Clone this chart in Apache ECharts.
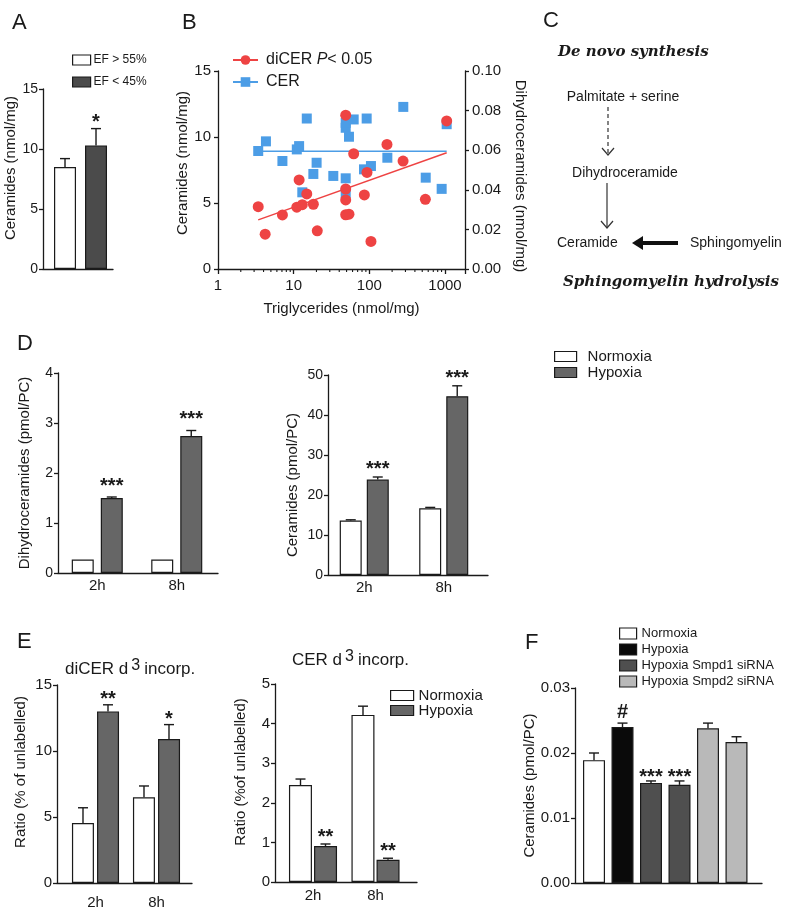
<!DOCTYPE html>
<html>
<head>
<meta charset="utf-8">
<script src="https://cdn.jsdelivr.net/npm/echarts@6.0.0/dist/echarts.min.js"></script>
<style>
html,body{margin:0;padding:0;background:#ffffff;}
#chart{width:800px;height:910px;}
</style>
</head>
<body>
<div id="chart"></div>
<script>
// ===================== DATA =====================
// Panel A
const aNames = ['EF > 55%', 'EF < 45%'];
const aMean = [8.5, 10.3];
const aUpper = [9.2, 11.7];
const aSig = ['', '*'];

// Panel B (triglycerides x, diCER right axis, CER left axis)
const bTgDicer = [3.4, 4.2, 7.1, 11.0, 11.8, 13.0, 14.9, 18.2, 20.5, 48.7, 48.7, 48.7, 48.7, 53.8, 62.1, 85.9, 93.1, 105, 171, 279, 550, 1052];
const bDicer = [0.0315, 0.0176, 0.0273, 0.0312, 0.0450, 0.0325, 0.0379, 0.0327, 0.0193, 0.0777, 0.0404, 0.0349, 0.0274, 0.0277, 0.0582, 0.0374, 0.0488, 0.0139, 0.0629, 0.0545, 0.0352, 0.0748];
const bTgCer = [3.4, 4.3, 7.1, 11.0, 11.8, 13.0, 14.9, 18.2, 20.1, 33.4, 48.7, 48.7, 48.7, 48.7, 53.8, 62.1, 85.0, 105, 92.2, 173, 281, 556, 903, 1052];
const bCer = [8.94, 9.67, 8.18, 9.06, 9.31, 5.81, 11.40, 7.20, 8.05, 7.05, 6.87, 5.74, 10.70, 11.07, 10.02, 11.33, 7.55, 7.80, 11.40, 8.43, 12.28, 6.92, 6.07, 10.97];
const bFitTg = [3.4, 1052];
const bFitDicer = [0.0248, 0.0587];
const bFitCer = [8.92, 8.92];
const bMinorTicks = [2,3,4,5,6,7,8,9,20,30,40,50,60,70,80,90,200,300,400,500,600,700,800,900];

// Panel D
const times = ['2h', '8h'];
const dDiNorm = [0.27, 0.27];
const dDiNormUp = [0.28, 0.28];
const dDiHyp = [1.50, 2.74];
const dDiHypUp = [1.52, 2.85];
const dDiSig = ['***', '***'];
const dCerNorm = [13.6, 16.7];
const dCerNormUp = [13.8, 16.9];
const dCerHyp = [23.85, 44.7];
const dCerHypUp = [24.5, 47.3];
const dCerSig = ['***', '***'];

// Panel E
const eDiNorm = [4.55, 6.5];
const eDiNormUp = [5.7, 7.35];
const eDiHyp = [13.0, 10.9];
const eDiHypUp = [13.5, 12.0];
const eDiSig = ['**', '*'];
const eCerNorm = [2.45, 4.22];
const eCerNormUp = [2.6, 4.44];
const eCerHyp = [0.91, 0.56];
const eCerHypUp = [0.96, 0.60];
const eCerSig = ['**', '**'];

// Panel F
const fGroups = ['Normoxia', 'Hypoxia', 'Hypoxia Smpd1 siRNA', 'Hypoxia Smpd2 siRNA'];
const fGroupOfBar = [0, 1, 2, 2, 3, 3];
const fMean = [0.0189, 0.0240, 0.0154, 0.0151, 0.0238, 0.0217];
const fUpper = [0.0200, 0.0246, 0.0157, 0.0157, 0.0246, 0.0225];
const fSig = ['', '#', '***', '***', '', ''];

// ===================== STYLE / LAYOUT =====================
const FONT = '"Liberation Sans", Arial, Helvetica, sans-serif';
const INK = '#1a1a1a';
const WHITE = '#ffffff';
const GRAY = '#666666';
const DARK_A = '#4b4b4b';
const F_COLORS = ['#ffffff', '#0a0a0a', '#4f4f4f', '#b9b9b9'];
const RED = '#ee4343';
const BLUE = '#4c9de6';

const axLine = {show: true, onZero: false, lineStyle: {color: INK, width: 1.3}};
const axTick = {show: true, length: 4, lineStyle: {color: INK, width: 1.3}};

function yAx(gridIndex, min, max, interval, name, o) {
  o = o || {};
  return {
    type: 'value', gridIndex, min, max, interval,
    position: o.position || 'left',
    name, nameLocation: 'middle', nameGap: o.nameGap, nameRotate: o.nameRotate,
    nameTextStyle: {fontFamily: FONT, fontSize: o.nameSize || 15, color: INK, padding: o.namePad || 0},
    axisLine: axLine, axisTick: axTick,
    axisLabel: {fontFamily: FONT, fontSize: o.labelSize || 14, color: INK, margin: o.labelMargin || 6, formatter: o.fmt},
    splitLine: {show: false}
  };
}
function xBar(gridIndex, min, max, labels, margin) {
  return {
    type: 'value', gridIndex, min, max,
    axisLine: axLine, axisTick: {show: false}, splitLine: {show: false},
    axisLabel: labels ? {
      show: true, customValues: labels.map((_, i) => i + 1),
      formatter: v => (Math.abs(v - Math.round(v)) < 1e-9 && labels[Math.round(v) - 1]) || '',
      fontFamily: FONT, fontSize: 15, color: INK, margin: margin
    } : {show: false}
  };
}
function barS(name, xi, yi, vals, color, width, gap, xs) {
  return {
    type: 'bar', name, xAxisIndex: xi, yAxisIndex: yi, barWidth: width, barGap: gap,
    itemStyle: {color, borderColor: INK, borderWidth: 1.2},
    data: vals.map((v, i) => [xs ? xs[i] : i + 1, v]), z: 2
  };
}
function errS(xi, yi, means, uppers, sigs, offset, st, xs) {
  return {
    type: 'custom', xAxisIndex: xi, yAxisIndex: yi, z: 5, silent: true,
    data: means.map((m, i) => [xs ? xs[i] : i + 1, m, uppers[i]]),
    encode: {x: 0, y: 1},
    renderItem(params, api) {
      const x = api.value(0), m = api.value(1), u = api.value(2);
      const pm = api.coord([x, m]), pu = api.coord([x, u]);
      const cx = pm[0] + offset;
      const ch = [];
      const ls = {stroke: INK, lineWidth: 1.4};
      if (pm[1] - pu[1] > 0.8) {
        ch.push({type: 'line', shape: {x1: cx, y1: pm[1], x2: cx, y2: pu[1]}, style: ls});
        ch.push({type: 'line', shape: {x1: cx - st.cap, y1: pu[1], x2: cx + st.cap, y2: pu[1]}, style: ls});
      }
      const s = sigs && sigs[params.dataIndex];
      if (s) {
        const star = s.indexOf('*') >= 0;
        ch.push({type: 'text', x: cx, y: pu[1] - (star ? st.d : st.dh) + (star ? 0.22 * st.fs : 0),
          style: {text: s, font: 'bold ' + st.fs + 'px ' + FONT, fill: INK, align: 'center', verticalAlign: 'middle'}});
      }
      return {type: 'group', children: ch};
    }
  };
}

// B minor tick renderer
const minorTickSeries = {
  type: 'custom', xAxisIndex: 1, yAxisIndex: 1, silent: true, z: 5,
  data: bMinorTicks.map(v => [v, 0]), encode: {x: 0, y: 1},
  renderItem(params, api) {
    const p = api.coord([api.value(0), api.value(1)]);
    return {type: 'line', shape: {x1: p[0], y1: p[1], x2: p[0], y2: p[1] + 3}, style: {stroke: INK, lineWidth: 1.1}};
  }
};

// ===================== OPTION =====================
const grids = [
  {left: 43, top: 89, width: 70, height: 180},    // 0 A
  {left: 218, top: 71, width: 247, height: 198},  // 1 B
  {left: 58, top: 373, width: 160, height: 200},  // 2 D left
  {left: 328, top: 375, width: 160, height: 200}, // 3 D right
  {left: 57, top: 685, width: 135, height: 198},  // 4 E left
  {left: 275, top: 684, width: 142, height: 198}, // 5 E right
  {left: 575, top: 688, width: 187, height: 195}  // 6 F
].map(g => Object.assign({outerBoundsMode: 'none', containLabel: false}, g));

const xAxes = [
  xBar(0, 0.29, 2.548, null),
  {
    type: 'log', gridIndex: 1, min: 1, max: 1837, logBase: 10,
    axisLine: axLine, axisTick: {show: true, length: 5, lineStyle: {color: INK, width: 1.3}},
    splitLine: {show: false},
    axisLabel: {fontFamily: FONT, fontSize: 15, color: INK, margin: 9,
      formatter: v => { const l = Math.log10(v); return Math.abs(l - Math.round(l)) < 1e-6 ? String(Math.round(v)) : ''; }},
    name: 'Triglycerides (nmol/mg)', nameLocation: 'middle', nameGap: 32,
    nameTextStyle: {fontFamily: FONT, fontSize: 15, color: INK}
  },
  xBar(2, 0.506, 2.519, times, 5),
  xBar(3, 0.544, 2.557, times, 5),
  xBar(4, 0.369, 2.582, times, 12),
  xBar(5, 0.392, 2.664, times, 6),
  xBar(6, 0.333, 6.895, null)
];

const yAxes = [
  yAx(0, 0, 15, 5, 'Ceramides (nmol/mg)', {nameGap: 16, namePad: [0, 0, 0, 22], labelSize: 14, labelMargin: 5}),
  yAx(1, 0, 15, 5, 'Ceramides (nmol/mg)', {nameGap: 23, namePad: [0, 0, 0, 14], labelSize: 15, labelMargin: 7}),
  yAx(1, 0, 0.1, 0.02, 'Dihydroceramides (nmol/mg)', {position: 'right', nameRotate: -90, nameGap: 48, namePad: [0, 0, 0, 12], labelSize: 15, labelMargin: 7, fmt: v => v.toFixed(2)}),
  yAx(2, 0, 4, 1, 'Dihydroceramides (pmol/PC)', {nameGap: 26, labelSize: 14, labelMargin: 5}),
  yAx(3, 0, 50, 10, 'Ceramides (pmol/PC)', {nameGap: 28, namePad: [0, 20, 0, 0], labelSize: 14, labelMargin: 5}),
  yAx(4, 0, 15, 5, 'Ratio (% of unlabelled)', {nameGap: 29, namePad: [0, 0, 0, 24], labelSize: 15, labelMargin: 5}),
  yAx(5, 0, 5, 1, 'Ratio (%of unlabelled)', {nameGap: 27, namePad: [0, 0, 0, 22], labelSize: 15, labelMargin: 5}),
  yAx(6, 0, 0.03, 0.01, 'Ceramides (pmol/PC)', {nameGap: 37, labelSize: 15, labelMargin: 5, fmt: v => v.toFixed(2)})
];

const series = [];
// A
series.push(barS(aNames[0], 0, 0, [aMean[0]], WHITE, 22, '-100%', [1]));
series.push(barS(aNames[1], 0, 0, [aMean[1]], DARK_A, 22, '-100%', [2]));
series.push(errS(0, 0, aMean, aUpper, aSig, 0, {cap: 5, d: 11, dh: 11, fs: 20}));
// B
series.push({type: 'line', name: 'diCER P< 0.05', xAxisIndex: 1, yAxisIndex: 2, symbol: 'circle', showSymbol: false,
  lineStyle: {color: RED, width: 1.5}, itemStyle: {color: RED}, data: bFitTg.map((x, i) => [x, bFitDicer[i]]), z: 3});
series.push({type: 'line', name: 'CER', xAxisIndex: 1, yAxisIndex: 1, symbol: 'rect', showSymbol: false,
  lineStyle: {color: BLUE, width: 1.5}, itemStyle: {color: BLUE}, data: bFitTg.map((x, i) => [x, bFitCer[i]]), z: 3});
series.push({type: 'scatter', name: 'CER', xAxisIndex: 1, yAxisIndex: 1, symbol: 'rect', symbolSize: 10,
  itemStyle: {color: BLUE, opacity: 1}, data: bTgCer.map((x, i) => [x, bCer[i]]), z: 4});
series.push({type: 'scatter', name: 'diCER P< 0.05', xAxisIndex: 1, yAxisIndex: 2, symbol: 'circle', symbolSize: 11,
  itemStyle: {color: RED, opacity: 1}, data: bTgDicer.map((x, i) => [x, bDicer[i]]), z: 4});
series.push(minorTickSeries);
// D left
series.push(barS('Normoxia', 2, 3, dDiNorm, WHITE, 22, '32%'));
series.push(barS('Hypoxia', 2, 3, dDiHyp, GRAY, 22, '32%'));
series.push(errS(2, 3, dDiNorm, dDiNormUp, null, -14.5, {cap: 5, d: 15, fs: 20}));
series.push(errS(2, 3, dDiHyp, dDiHypUp, dDiSig, 14.5, {cap: 5, d: 15, fs: 20}));
// D right
series.push(barS('Normoxia', 3, 4, dCerNorm, WHITE, 22, '23%'));
series.push(barS('Hypoxia', 3, 4, dCerHyp, GRAY, 22, '23%'));
series.push(errS(3, 4, dCerNorm, dCerNormUp, null, -13.5, {cap: 5, d: 12, fs: 20}));
series.push(errS(3, 4, dCerHyp, dCerHypUp, dCerSig, 13.5, {cap: 5, d: 12, fs: 20}));
// E left
series.push(barS('Normoxia', 4, 5, eDiNorm, WHITE, 22, '14%'));
series.push(barS('Hypoxia', 4, 5, eDiHyp, GRAY, 22, '14%'));
series.push(errS(4, 5, eDiNorm, eDiNormUp, null, -12.5, {cap: 5, d: 10, fs: 20}));
series.push(errS(4, 5, eDiHyp, eDiHypUp, eDiSig, 12.5, {cap: 5, d: 10, fs: 20}));
// E right
series.push(barS('Normoxia', 5, 6, eCerNorm, WHITE, 23, '9%'));
series.push(barS('Hypoxia', 5, 6, eCerHyp, GRAY, 23, '9%'));
series.push(errS(5, 6, eCerNorm, eCerNormUp, null, -12.5, {cap: 5, d: 11, fs: 20}));
series.push(errS(5, 6, eCerHyp, eCerHypUp, eCerSig, 12.5, {cap: 5, d: 11, fs: 20}));
// F
fGroups.forEach((g, gi) => {
  const xs = [], vs = [];
  fMean.forEach((v, i) => { if (fGroupOfBar[i] === gi) { xs.push(i + 1); vs.push(v); } });
  series.push(barS(g, 6, 7, vs, F_COLORS[gi], 22, '-100%', xs));
});
series.push(errS(6, 7, fMean, fUpper, fSig, 0, {cap: 5, d: 8, dh: 11, fs: 20}));

const legTxt = {fontFamily: FONT, color: INK};
const legend = [
  {left: 67, top: 49, orient: 'vertical', itemWidth: 18, itemHeight: 10, itemGap: 10, icon: 'rect', selectedMode: false,
   itemStyle: {borderColor: INK, borderWidth: 1.2}, data: aNames, textStyle: Object.assign({fontSize: 12, padding: [0, 0, 0, -2]}, legTxt)},
  {left: 227, top: 47, orient: 'vertical', itemWidth: 25, itemHeight: 12, itemGap: 6, selectedMode: false,
   data: ['diCER P< 0.05', 'CER'],
   formatter: n => n === 'diCER P< 0.05' ? 'diCER {i|P}< 0.05' : n,
   textStyle: Object.assign({fontSize: 16, padding: [0, 0, 0, 3], rich: {i: {fontStyle: 'italic', fontSize: 16, fontFamily: FONT, color: INK}}}, legTxt)},
  {left: 549, top: 344, orient: 'vertical', itemWidth: 22, itemHeight: 10, itemGap: 1, icon: 'rect', selectedMode: false,
   itemStyle: {borderColor: INK, borderWidth: 1.2}, data: ['Normoxia', 'Hypoxia'], textStyle: Object.assign({fontSize: 15, padding: [0, 0, 0, 6]}, legTxt)},
  {left: 385, top: 683, orient: 'vertical', itemWidth: 23, itemHeight: 10, itemGap: 0, icon: 'rect', selectedMode: false,
   itemStyle: {borderColor: INK, borderWidth: 1.2}, data: ['Normoxia', 'Hypoxia'], textStyle: Object.assign({fontSize: 15}, legTxt)},
  {left: 614, top: 622, orient: 'vertical', itemWidth: 17, itemHeight: 11, itemGap: 3, icon: 'rect', selectedMode: false,
   itemStyle: {borderColor: INK, borderWidth: 1.2},
   data: [{name: 'Normoxia'}, {name: 'Hypoxia', itemStyle: {color: F_COLORS[1]}}, {name: fGroups[2]}, {name: fGroups[3]}],
   textStyle: Object.assign({fontSize: 13}, legTxt)}
];

function txt(x, y, text, font, align) {
  return {type: 'text', x, y, silent: true, style: {text, font, fill: INK, align: align || 'left', verticalAlign: 'middle'}};
}
const LET = '22px ' + FONT;
const SERIF = 'italic bold 15px "DejaVu Serif", serif';
const SANS = '14px ' + FONT;
const graphic = [
  txt(12, 23, 'A', LET), txt(182, 23, 'B', LET), txt(543, 21, 'C', LET),
  txt(17, 344, 'D', LET), txt(17, 642, 'E', LET), txt(525, 643, 'F', LET),
  // Panel C diagram
  txt(558, 52, 'De novo synthesis', SERIF),
  txt(623, 97, 'Palmitate + serine', SANS, 'center'),
  txt(625, 173, 'Dihydroceramide', SANS, 'center'),
  txt(557, 243, 'Ceramide', SANS),
  txt(690, 243, 'Sphingomyelin', SANS),
  txt(563, 282, 'Sphingomyelin hydrolysis', SERIF),
  {type: 'line', silent: true, shape: {x1: 608, y1: 107, x2: 608, y2: 153}, style: {stroke: '#333', lineWidth: 1.2, lineDash: [4, 3]}},
  {type: 'polyline', silent: true, shape: {points: [[602, 148], [608, 155], [614, 148]]}, style: {stroke: '#333', lineWidth: 1.2, fill: null}},
  {type: 'line', silent: true, shape: {x1: 607, y1: 183, x2: 607, y2: 227}, style: {stroke: '#333', lineWidth: 1.2}},
  {type: 'polyline', silent: true, shape: {points: [[601, 221], [607, 228], [613, 221]]}, style: {stroke: '#333', lineWidth: 1.2, fill: null}},
  {type: 'line', silent: true, shape: {x1: 678, y1: 243, x2: 640, y2: 243}, style: {stroke: '#111', lineWidth: 4}},
  {type: 'polygon', silent: true, shape: {points: [[632, 243], [643, 236], [643, 250]]}, style: {fill: '#111'}},
  // Panel E titles
  {type: 'text', x: 65, y: 669, silent: true, style: {text: '{n|diCER d}{s|3}{n|incorp.}', fill: INK, verticalAlign: 'middle',
    rich: {n: {fontSize: 17, fontFamily: FONT, fill: INK}, s: {fontSize: 16, fontFamily: FONT, fill: INK, padding: [0, 4, 6, 3]}}}},
  {type: 'text', x: 292, y: 660, silent: true, style: {text: '{n|CER d}{s|3}{n|incorp.}', fill: INK, verticalAlign: 'middle',
    rich: {n: {fontSize: 17, fontFamily: FONT, fill: INK}, s: {fontSize: 16, fontFamily: FONT, fill: INK, padding: [0, 4, 6, 3]}}}}
];

const chart = echarts.init(document.getElementById('chart'), null, {renderer: 'canvas'});
chart.setOption({
  animation: false,
  backgroundColor: '#ffffff',
  textStyle: {fontFamily: FONT},
  grid: grids, xAxis: xAxes, yAxis: yAxes, series, legend, graphic
});
</script>
</body>
</html>
